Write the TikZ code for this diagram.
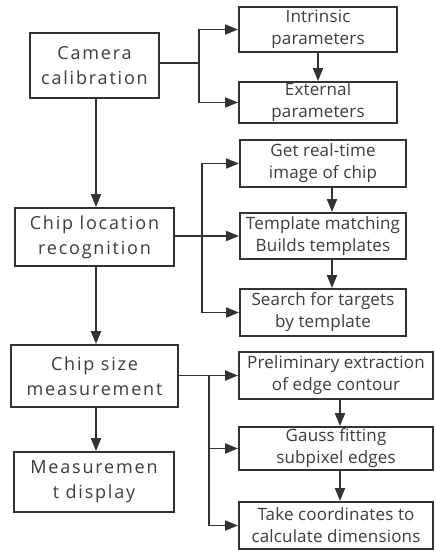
\documentclass[tikz,border=0pt]{standalone}
\usepackage{fontspec}
\setmainfont{Open Sans}
\newfontfamily\bigface[LetterSpace=10]{Open Sans}
\newfontfamily\smallface[LetterSpace=1]{Open Sans}
\usetikzlibrary{arrows.meta,calc}
\definecolor{ink}{HTML}{333333}
\definecolor{txt}{HTML}{3c3c3c}
\begin{document}
\begin{tikzpicture}[x=1pt,y=-1pt,
  box/.style={draw=ink,line width=1.9pt,rectangle,inner sep=0pt,align=center,text=txt},
  bigbox/.style={box,font=\bigface\fontsize{18}{25}\selectfont},
  smallbox/.style={box,font=\smallface\fontsize{17}{22}\selectfont},
  link/.style={draw=ink,line width=1.9pt},
  arr/.style={link,-{Triangle[length=13pt,width=10pt]}}]
\useasboundingbox[fill=white] (0,0) rectangle (435,550);
\begin{scope}
\clip (0,0) rectangle (435,550);
% left column
\node[bigbox,minimum width=129pt,minimum height=65pt] (cam) at (94.5,65.5) {Camera\\calibration};
\node[bigbox,minimum width=159pt,minimum height=58pt] (loc) at (94.5,237) {Chip location\\recognition};
\node[bigbox,minimum width=167pt,minimum height=62pt] (size) at (94.5,376) {Chip size\\measurement};
\node[bigbox,minimum width=160pt,minimum height=60pt] (disp) at (94,482) {Measuremen\\t display};
% right column, first group
\node[smallbox,minimum width=158pt,minimum height=45pt] (intr) at (318,29.5) {Intrinsic\\parameters};
\node[smallbox,minimum width=158pt,minimum height=41pt] (ext) at (318,102.5) {External\\parameters};
% second group
\node[smallbox,minimum width=166pt,minimum height=47pt] (get) at (323,163.5) {Get real-time\\image of chip};
\node[smallbox,minimum width=166pt,minimum height=46pt] (tmpl) at (323,236) {Template matching\\Builds templates};
\node[smallbox,minimum width=166pt,minimum height=47pt] (srch) at (323,312.5) {Search for targets\\by template};
% third group
\node[smallbox,minimum width=194pt,minimum height=47pt] (prel) at (336,375.5) {Preliminary extraction\\of edge contour};
\node[smallbox,minimum width=194pt,minimum height=43pt] (gauss) at (336,448.5) {Gauss fitting\\subpixel edges};
\node[smallbox,minimum width=194pt,minimum height=47pt] (take) at (336,525.5) {Take coordinates to\\calculate dimensions};
\end{scope}
% main flow
\draw[arr] (cam.south -| 96,0) -- (loc.north -| 96,0);
\draw[arr] (loc.south -| 96,0) -- (size.north -| 96,0);
\draw[arr] (size.south -| 96,0) -- (disp.north -| 96,0);
% calibration branch
\coordinate (b1) at (199,63);
\draw[link] (cam.east |- b1) -- (b1);
\draw[arr] (b1) |- (intr.west);
\draw[arr] (b1) |- (ext.west);
\draw[arr] (intr.south) -- (ext.north);
% recognition branch
\coordinate (b2) at (202,237);
\draw[arr] (loc.east |- tmpl.west) -- (tmpl.west);
\draw[arr] (b2) |- (get.west);
\draw[arr] (b2) |- (srch.west);
\draw[arr] (get.south -| 332,0) -- (tmpl.north -| 332,0);
\draw[arr] (tmpl.south -| 332,0) -- (srch.north -| 332,0);
% measurement branch
\coordinate (b3) at (209,376);
\draw[arr] (size.east |- prel.west) -- (prel.west);
\draw[arr] (b3) |- (gauss.west);
\draw[arr] (b3) |- (take.west);
\draw[arr] (prel.south -| 340,0) -- (gauss.north -| 340,0);
\draw[arr] (gauss.south -| 340,0) -- (take.north -| 340,0);
\end{tikzpicture}
\end{document}
